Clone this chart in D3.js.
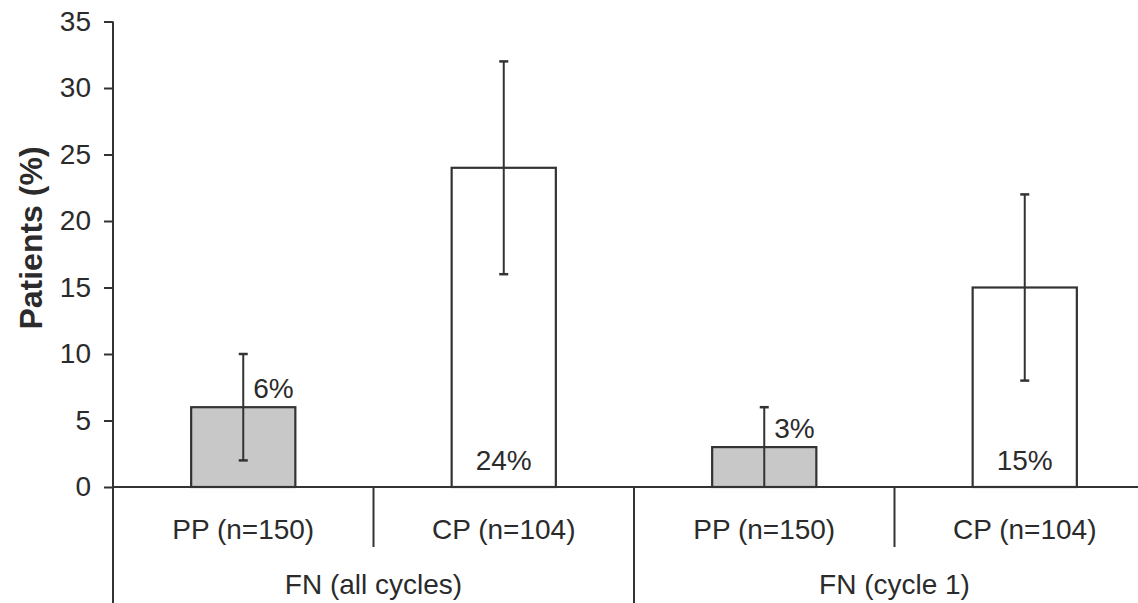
<!DOCTYPE html>
<html><head><meta charset="utf-8"><style>
body { margin: 0; background: #fff; }
text { font-family: "Liberation Sans", Arial, sans-serif; fill: #2b2b2b; }
</style>
</head>
<body>
<svg width="1138" height="603"></svg>
<script src="https://cdn.jsdelivr.net/npm/d3@7"></script>
<script>

var groups = ["FN (all cycles)", "FN (cycle 1)"];
var arms = ["PP (n=150)", "CP (n=104)"];
var values = [6, 24, 3, 15];
var lower = [2, 16, 0, 8];
var upper = [10, 32, 6, 22];
var valueLabels = ["6%", "24%", "3%", "15%"];
var yTicks = [0, 5, 10, 15, 20, 25, 30, 35];

var svg = d3.select("svg"),
    ink = "#333",
    fs = 28,
    x0 = 113, yBase = 487;

// one entry per bar
var data = [];
groups.forEach(function(g, gi) {
  arms.forEach(function(a, ai) {
    var i = gi * arms.length + ai;
    data.push({ key: gi + "-" + ai, group: g, arm: a, armIndex: ai,
                value: values[i], lo: lower[i], hi: upper[i], label: valueLabels[i] });
  });
});

var x = d3.scaleBand()
    .domain(data.map(function(d) { return d.key; }))
    .range([x0, 1155])
    .padding(0);

var y = d3.scaleLinear()
    .domain([0, 35])
    .range([yBase, 21.5]);

var barW = x.bandwidth() * 0.4;
function cx(d) { return x(d.key) + x.bandwidth() / 2; }

// bars
svg.append("g").selectAll("rect")
  .data(data)
  .enter().append("rect")
    .attr("x", function(d) { return cx(d) - barW / 2; })
    .attr("y", function(d) { return y(d.value); })
    .attr("width", barW)
    .attr("height", function(d) { return y(0) - y(d.value); })
    .attr("fill", function(d) { return d.armIndex === 0 ? "#c8c8c8" : "#fff"; })
    .attr("stroke", ink)
    .attr("stroke-width", 2.2);

// error bars
var err = svg.append("g").attr("stroke", ink).attr("stroke-width", 2);
err.selectAll("line.v")
  .data(data)
  .enter().append("line")
    .attr("class", "v")
    .attr("x1", cx).attr("x2", cx)
    .attr("y1", function(d) { return y(d.lo); })
    .attr("y2", function(d) { return y(d.hi); });
err.selectAll("line.top")
  .data(data)
  .enter().append("line")
    .attr("class", "top")
    .attr("x1", function(d) { return cx(d) - 4.5; })
    .attr("x2", function(d) { return cx(d) + 4.5; })
    .attr("y1", function(d) { return y(d.hi); })
    .attr("y2", function(d) { return y(d.hi); })
    .attr("stroke-width", 2.5);
err.selectAll("line.bot")
  .data(data.filter(function(d) { return d.lo > 0; }))
  .enter().append("line")
    .attr("class", "bot")
    .attr("x1", function(d) { return cx(d) - 4.5; })
    .attr("x2", function(d) { return cx(d) + 4.5; })
    .attr("y1", function(d) { return y(d.lo); })
    .attr("y2", function(d) { return y(d.lo); })
    .attr("stroke-width", 2.5);

// value labels: PP above bar right of error bar, CP inside bar bottom
svg.append("g").selectAll("text")
  .data(data)
  .enter().append("text")
    .attr("font-size", fs)
    .attr("text-anchor", function(d) { return d.armIndex === 0 ? "start" : "middle"; })
    .attr("x", function(d) { return d.armIndex === 0 ? cx(d) + 10 : cx(d); })
    .attr("y", function(d) { return d.armIndex === 0 ? y(d.value) - 9 : y(0) - 17; })
    .text(function(d) { return d.label; });

// y axis
var yAxis = svg.append("g")
    .attr("transform", "translate(" + x0 + ",0)")
    .call(d3.axisLeft(y).tickValues(yTicks).tickSize(9).tickSizeOuter(0).tickPadding(13));
yAxis.select(".domain").remove();
yAxis.selectAll(".tick line").attr("stroke", ink).attr("stroke-width", 2);
yAxis.selectAll(".tick text")
    .attr("font-size", fs)
    .attr("font-family", "Liberation Sans, Arial, sans-serif")
    .attr("fill", "#2b2b2b");

var axes = svg.append("g").attr("stroke", ink).attr("stroke-width", 2);
axes.append("line")
    .attr("x1", x0).attr("x2", x0)
    .attr("y1", y(35)).attr("y2", 603);
axes.append("line")
    .attr("x1", x0).attr("x2", 1138)
    .attr("y1", y(0)).attr("y2", y(0));

// category separators
axes.selectAll("line.sep")
  .data(data.slice(1))
  .enter().append("line")
    .attr("class", "sep")
    .attr("x1", function(d) { return x(d.key); })
    .attr("x2", function(d) { return x(d.key); })
    .attr("y1", y(0))
    .attr("y2", function(d) { return d.armIndex === 0 ? 603 : 547; });

// category labels
svg.append("g").selectAll("text")
  .data(data)
  .enter().append("text")
    .attr("font-size", fs)
    .attr("text-anchor", "middle")
    .attr("x", cx)
    .attr("y", 539)
    .text(function(d) { return d.arm; });

// group labels
svg.append("g").selectAll("text")
  .data(groups)
  .enter().append("text")
    .attr("font-size", fs)
    .attr("text-anchor", "middle")
    .attr("x", function(g, gi) {
      var a = x(gi + "-0"), b = x(gi + "-" + (arms.length - 1)) + x.bandwidth();
      return (a + b) / 2;
    })
    .attr("y", 594)
    .text(function(d) { return d; });

// y title
svg.append("text")
    .attr("transform", "translate(42,238) rotate(-90)")
    .attr("text-anchor", "middle")
    .attr("font-size", 32)
    .attr("font-weight", "bold")
    .text("Patients (%)");

</script>
</body></html>
